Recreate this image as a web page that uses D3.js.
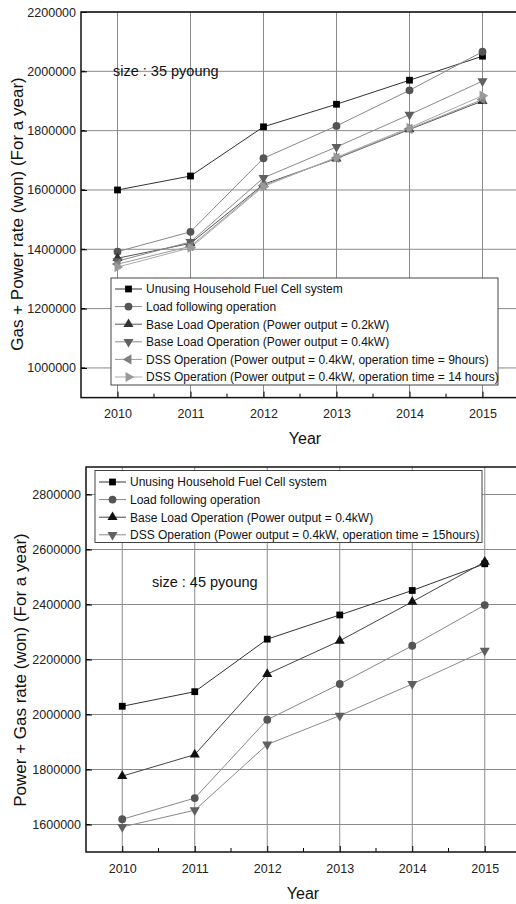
<!DOCTYPE html>
<html>
<head>
<meta charset="utf-8">
<script src="https://cdn.jsdelivr.net/npm/d3@7"></script>
<style>
  body { margin: 0; background: #fff; }
  svg { display: block; font-family: "Liberation Sans", Arial, sans-serif; }
</style>
</head>
<body>
<div id="chart"></div>
<script>
// years on the x axis
const years = [2010, 2011, 2012, 2013, 2014, 2015];

// 35 pyoung (top chart)
const labels35 = [
  "Unusing Household Fuel Cell system",
  "Load following operation",
  "Base Load Operation (Power output = 0.2kW)",
  "Base Load Operation (Power output = 0.4kW)",
  "DSS Operation (Power output = 0.4kW, operation time = 9hours)",
  "DSS Operation (Power output = 0.4kW, operation time = 14 hours)"
];
const unusing35   = [1600000, 1647000, 1813000, 1889000, 1970000, 2051000];
const loadFollow35 = [1392000, 1459000, 1707000, 1816000, 1936000, 2066000];
const base02_35   = [1370000, 1420000, 1619000, 1706000, 1804000, 1900000];
const base04_35   = [1360000, 1425000, 1641000, 1745000, 1854000, 1967000];
const dss9_35     = [1350000, 1410000, 1615000, 1708000, 1806000, 1905000];
const dss14_35    = [1340000, 1405000, 1612000, 1710000, 1810000, 1918000];
const yTicks35 = [1000000, 1200000, 1400000, 1600000, 1800000, 2000000, 2200000];

// 45 pyoung (bottom chart)
const labels45 = [
  "Unusing Household Fuel Cell system",
  "Load following operation",
  "Base Load Operation (Power output = 0.4kW)",
  "DSS Operation (Power output = 0.4kW, operation time = 15hours)"
];
const unusing45   = [2030000, 2083000, 2274000, 2362000, 2451000, 2548000];
const loadFollow45 = [1619000, 1696000, 1981000, 2111000, 2250000, 2398000];
const base04_45   = [1776000, 1854000, 2147000, 2268000, 2410000, 2555000];
const dss15_45    = [1591000, 1652000, 1891000, 1996000, 2111000, 2232000];
const yTicks45 = [1600000, 1800000, 2000000, 2200000, 2400000, 2600000, 2800000];

const W = 516, H = 904;
const svg = d3.select("#chart").append("svg")
  .attr("width", W).attr("height", H);

// marker styles: symbol type + rotation
const mk = {
  square: { type: d3.symbolSquare, size: 46, rot: 0 },
  circle: { type: d3.symbolCircle, size: 48, rot: 0 },
  up:     { type: d3.symbolTriangle, size: 44, rot: 0 },
  down:   { type: d3.symbolTriangle, size: 44, rot: 180 },
  left:   { type: d3.symbolTriangle, size: 44, rot: -90 },
  right:  { type: d3.symbolTriangle, size: 44, rot: 90 }
};

function drawChart(cfg) {
  const g = svg.append("g");
  const x = d3.scaleLinear().domain([2009.5, 2015.5]).range([cfg.left, cfg.right]);
  const y = d3.scaleLinear().domain(cfg.yDomain).range([cfg.bottom, cfg.top]);

  // grid
  g.append("g").selectAll("line").data(years).join("line")
    .attr("x1", d => x(d)).attr("x2", d => x(d))
    .attr("y1", cfg.top).attr("y2", cfg.bottom)
    .attr("stroke", "#8a8a8a").attr("stroke-width", 1);
  g.append("g").selectAll("line").data(cfg.yTicks).join("line")
    .attr("x1", cfg.left).attr("x2", cfg.right)
    .attr("y1", d => y(d)).attr("y2", d => y(d))
    .attr("stroke", "#8a8a8a").attr("stroke-width", 1);

  // series
  const line = d3.line().x((d, i) => x(years[i])).y(d => y(d));
  cfg.series.forEach(s => {
    g.append("path").datum(s.values)
      .attr("d", line).attr("fill", "none")
      .attr("stroke", s.line).attr("stroke-width", 1);
  });
  cfg.series.forEach(s => {
    const m = mk[s.marker];
    g.append("g").selectAll("path").data(s.values).join("path")
      .attr("d", d3.symbol().type(m.type).size(m.size))
      .attr("transform", (d, i) => `translate(${x(years[i])},${y(d)}) rotate(${m.rot})`)
      .attr("fill", s.fill);
  });

  // axes (ticks inward)
  const yAxis = d3.axisLeft(y).tickValues(cfg.yTicks).tickSize(-6).tickPadding(5)
    .tickFormat(d3.format("d"));
  const ay = g.append("g").attr("transform", `translate(${cfg.left},0)`).call(yAxis);
  const xAxis = d3.axisBottom(x).tickValues(years).tickSize(-6).tickPadding(12)
    .tickFormat(d3.format("d"));
  const ax = g.append("g").attr("transform", `translate(0,${cfg.bottom})`).call(xAxis);
  [ay, ax].forEach(a => {
    a.select(".domain").remove();
    a.selectAll("line").attr("stroke", "#000");
    a.selectAll("text").attr("font-size", 12.5).attr("fill", "#222")
      .attr("font-family", "'Liberation Sans', Arial, sans-serif");
  });
  // minor ticks
  const yMinor = d3.range(cfg.yDomain[0] + 100000, cfg.yDomain[1], 200000);
  g.append("g").selectAll("line").data(yMinor).join("line")
    .attr("x1", cfg.left).attr("x2", cfg.left + 4)
    .attr("y1", d => y(d)).attr("y2", d => y(d)).attr("stroke", "#000");
  const xMinor = years.slice(0, -1).map(d => d + 0.5);
  g.append("g").selectAll("line").data(xMinor).join("line")
    .attr("x1", d => x(d)).attr("x2", d => x(d))
    .attr("y1", cfg.bottom).attr("y2", cfg.bottom - 4).attr("stroke", "#000");

  // frame
  g.append("rect")
    .attr("x", cfg.left).attr("y", cfg.top)
    .attr("width", cfg.right - cfg.left).attr("height", cfg.bottom - cfg.top)
    .attr("fill", "none").attr("stroke", "#111").attr("stroke-width", 1.5);

  // legend
  const lg = g.append("g");
  lg.append("rect")
    .attr("x", cfg.legend.x).attr("y", cfg.legend.y)
    .attr("width", cfg.legend.w).attr("height", cfg.legend.h)
    .attr("fill", "#fff").attr("stroke", "#444").attr("stroke-width", 1);
  cfg.series.forEach((s, i) => {
    const ry = cfg.legend.y + cfg.legend.pad + i * cfg.legend.step;
    const lx = cfg.legend.x + 4;
    lg.append("line").attr("x1", lx).attr("x2", lx + 27)
      .attr("y1", ry).attr("y2", ry).attr("stroke", s.line);
    const m = mk[s.marker];
    lg.append("path").attr("d", d3.symbol().type(m.type).size(m.size)())
      .attr("transform", `translate(${lx + 13.5},${ry}) rotate(${m.rot})`)
      .attr("fill", s.fill);
    lg.append("text").attr("x", lx + 31).attr("y", ry).attr("dy", "0.36em")
      .attr("font-size", 12).attr("fill", "#111").text(s.label);
  });

  // size note
  g.append("text").attr("x", cfg.note.x).attr("y", cfg.note.y)
    .attr("font-size", 14.5).attr("fill", "#111").text(cfg.note.text);

  // axis titles
  g.append("text").attr("x", cfg.xTitle.x).attr("y", cfg.xTitle.y)
    .attr("text-anchor", "middle").attr("font-size", 16).attr("fill", "#111")
    .text("Year");
  g.append("text")
    .attr("transform", `translate(${cfg.yTitle.x},${cfg.yTitle.y}) rotate(-90)`)
    .attr("text-anchor", "middle").attr("font-size", 17).attr("fill", "#111")
    .text(cfg.yTitle.text);
}

drawChart({
  left: 81, right: 519, top: 12, bottom: 397.6,
  yDomain: [900000, 2200000], yTicks: yTicks35,
  series: [
    { label: labels35[0], values: unusing35, marker: "square", fill: "#000", line: "#333" },
    { label: labels35[1], values: loadFollow35, marker: "circle", fill: "#555", line: "#888" },
    { label: labels35[2], values: base02_35, marker: "up", fill: "#333", line: "#555" },
    { label: labels35[3], values: base04_35, marker: "down", fill: "#606060", line: "#8a8a8a" },
    { label: labels35[4], values: dss9_35, marker: "left", fill: "#808080", line: "#999" },
    { label: labels35[5], values: dss14_35, marker: "right", fill: "#9a9a9a", line: "#aaa" }
  ],
  legend: { x: 111, y: 278, w: 387, h: 107, pad: 11, step: 17.6 },
  note: { x: 113, y: 76, text: "size : 35 pyoung" },
  xTitle: { x: 305, y: 444 },
  yTitle: { x: 23, y: 214, text: "Gas + Power rate (won) (For a year)" }
});

drawChart({
  left: 86, right: 521, top: 467, bottom: 852,
  yDomain: [1500000, 2900000], yTicks: yTicks45,
  series: [
    { label: labels45[0], values: unusing45, marker: "square", fill: "#000", line: "#333" },
    { label: labels45[1], values: loadFollow45, marker: "circle", fill: "#555", line: "#888" },
    { label: labels45[2], values: base04_45, marker: "up", fill: "#111", line: "#444" },
    { label: labels45[3], values: dss15_45, marker: "down", fill: "#606060", line: "#8a8a8a" }
  ],
  legend: { x: 95, y: 470.5, w: 387, h: 72, pad: 11.5, step: 17.6 },
  note: { x: 152, y: 587, text: "size : 45 pyoung" },
  xTitle: { x: 303, y: 899 },
  yTitle: { x: 26, y: 670, text: "Power + Gas rate (won) (For a year)" }
});
</script>
</body>
</html>
